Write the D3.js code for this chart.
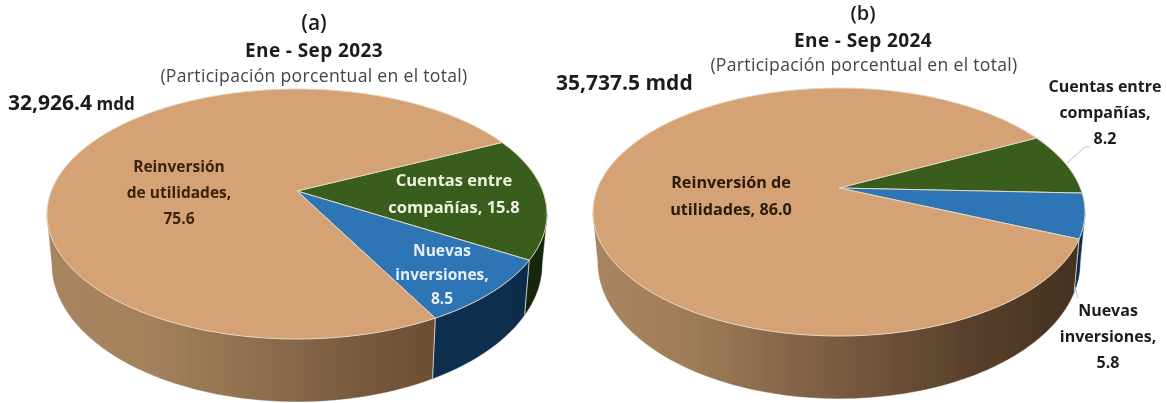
<!DOCTYPE html>
<html><head><meta charset="utf-8">
<script src="https://cdn.jsdelivr.net/npm/d3@7"></script>
<style>html,body{margin:0;background:#fff}svg{display:block}text{font-family:"Open Sans",sans-serif;text-anchor:middle}</style>
</head><body><svg id="c" width="1167" height="403"></svg>
<script>
const categories = ["Cuentas entre compañías","Nuevas inversiones","Reinversión de utilidades"];
const values2023 = [15.8, 8.5, 75.6];
const values2024 = [8.2, 5.8, 86.0];
const topColors = ["#385d1f","#2e75b6","#d4a274"];
const svg = d3.select("#c");
const defs = svg.append("defs");
defs.append("filter").attr("id","soft").append("feGaussianBlur").attr("stdDeviation",0.5);
defs.append("filter").attr("id","softT").append("feGaussianBlur").attr("stdDeviation",0.35);
const lines = d3.line();

function grad(id, x0, x1, stops){
  const g = defs.append("linearGradient").attr("id",id).attr("gradientUnits","userSpaceOnUse")
    .attr("x1",x0).attr("x2",x1).attr("y1",0).attr("y2",0);
  stops.forEach(s=>g.append("stop").attr("offset",s[0]).attr("stop-color",s[1]));
  return `url(#${id})`;
}

function drawPie(g, id, values, o){
  const c = o.apexUp/o.ry;
  const a = o.ry*(1+c)-o.apexUp;
  const p = o.rx*Math.sqrt(1-c*c);
  const proj = (t)=>{
    const X=Math.sin(t),Y=Math.cos(t),w=1+c*Y;
    return [o.cx+p*X/w, o.cy-(a*Y+o.apexUp)/w];
  };
  const projBase = (t)=>{
    const q=proj(t);
    return [o.cx+(q[0]-o.cx)*o.baseSx, o.cy+(q[1]-o.cy)*o.baseSy+o.baseDy];
  };
  const apex=[o.cx,o.cy-o.apexUp];
  const arcs = d3.pie().sort(null).value(d=>d)
    .startAngle(o.start*Math.PI/180).endAngle(o.start*Math.PI/180+2*Math.PI)(values);
  const sample=(t0,t1)=>{const n=Math.max(2,Math.ceil(Math.abs(t1-t0)*60));return d3.range(n+1).map(i=>t0+(t1-t0)*i/n);};
  const tR=Math.acos(-c), tL=2*Math.PI-tR;
  const wallFills=[
    grad(id+"g",o.cx+100,o.cx+o.rx,[[0,"#22401a"],[1,"#11240a"]]),
    grad(id+"b",o.cx,o.cx+o.rx,o.blueStops),
    grad(id+"t",o.cx-o.rx,o.cx+o.rx,o.tanStops)
  ];
  const walls=[];
  arcs.forEach((d,i)=>{
    [[d.startAngle,d.endAngle],[d.startAngle-2*Math.PI,d.endAngle-2*Math.PI]].forEach(([s,e])=>{
      const a0=Math.max(s,tR),a1=Math.min(e,tL);
      if(a1>a0) walls.push({i,a0,a1});
    });
  });
  g.append("g").selectAll("path").data(walls).join("path")
    .attr("d",w=>{
      const ts=sample(w.a0,w.a1);
      const top=ts.map(t=>proj(t));
      const bot=ts.slice().reverse().map(t=>projBase(t));
      return lines(top.concat(bot))+"Z";
    })
    .attr("fill",w=>wallFills[w.i]).attr("stroke",w=>wallFills[w.i]).attr("stroke-width",0.5);
  g.append("g").selectAll("line").data(walls.filter(w=>w.i!==2)).join("line")
    .attr("x1",w=>proj(w.a1)[0]).attr("y1",w=>proj(w.a1)[1])
    .attr("x2",w=>projBase(w.a1)[0]).attr("y2",w=>projBase(w.a1)[1])
    .attr("stroke","#c9ccc9").attr("stroke-width",1);
  g.append("g").selectAll("path").data(arcs).join("path")
    .attr("d",d=>lines([apex].concat(sample(d.startAngle,d.endAngle).map(t=>proj(t))))+"Z")
    .attr("fill",(d,i)=>topColors[i]).attr("stroke","#e6d5c0").attr("stroke-width",1).attr("stroke-linejoin","round");
}

function textBlock(g, rows, x, y0, lh, size, fill, weight=700, spacing=0){
  return g.append("g").selectAll("text").data(rows).join("text")
    .attr("x",x).attr("y",(d,i)=>y0+i*lh).attr("font-size",size).attr("font-weight",weight)
    .attr("letter-spacing",spacing).attr("fill",fill).text(d=>d);
}

const chart = svg.append("g").attr("filter","url(#soft)");
const tanA=[[0,"#a8855f"],[0.2,"#a5825c"],[0.42,"#8f6e4e"],[0.6,"#7a5c40"],[0.78,"#6b4e34"],[1,"#5b3f28"]];
const tanB=[[0,"#a9855f"],[0.2,"#9f7c58"],[0.45,"#7f6045"],[0.78,"#573f2a"],[1,"#45301e"]];
const blueWall=[[0,"#143152"],[1,"#0f2c4c"]];
drawPie(chart,"a",values2023,{cx:297,cy:214,rx:250,ry:125,apexUp:23,start:64.3,baseSx:0.98,baseSy:1.1,baseDy:50,tanStops:tanA,blueStops:blueWall});
drawPie(chart,"b",values2024,{cx:839,cy:212,rx:246,ry:124,apexUp:24,start:62.9,baseSx:0.98,baseSy:1.1,baseDy:50,tanStops:tanB,blueStops:blueWall});

chart.append("g").selectAll("path").data([[[1067,163],[1085,147],[1090,147]],[[1075,287],[1078,298]]]).join("path")
  .attr("d",d=>lines(d)).attr("fill","none").attr("stroke","#bfbfbf").attr("stroke-width",1);

const txt = svg.append("g").attr("filter","url(#softT)");
const dark="#1e1e1e";
textBlock(txt,["(a)"],314,30,0,21,dark,600);
textBlock(txt,["Ene - Sep 2023"],314,57,0,19,dark,700,0.4);
textBlock(txt,["(Participación porcentual en el total)"],314,81.5,0,17.6,"#444",400,0.3);
textBlock(txt,["(b)"],863,20,0,20,dark,600);
textBlock(txt,["Ene - Sep 2024"],863,46.5,0,19,dark,700,0.4);
textBlock(txt,["(Participación porcentual en el total)"],864,71,0,17.6,"#444",400,0.3);
txt.append("text").attr("x",8).attr("y",110).attr("font-weight",700).attr("font-size",21).attr("fill",dark).style("text-anchor","start")
  .text("32,926.4").append("tspan").attr("font-size",17).text(" mdd");
txt.append("text").attr("x",556).attr("y",90).attr("font-weight",700).attr("font-size",21).attr("fill",dark).style("text-anchor","start")
  .text("35,737.5 mdd");
textBlock(txt,["Reinversión","de utilidades,","75.6"],179,172,26,15.5,"#3a2410");
textBlock(txt,["Cuentas entre","compañías, 15.8"],454,186,27,16.5,"#eef3dc");
textBlock(txt,["Nuevas","inversiones,","8.5"],442,256,24,15.5,"#e6f0fa");
textBlock(txt,["Reinversión de","utilidades, 86.0"],731,188,27,16.2,"#2a1a08");
textBlock(txt,["Cuentas entre","compañías,","8.2"],1105,92,26,16,dark);
textBlock(txt,["Nuevas","inversiones,","5.8"],1108,316,26,16,dark);
</script></body></html>
